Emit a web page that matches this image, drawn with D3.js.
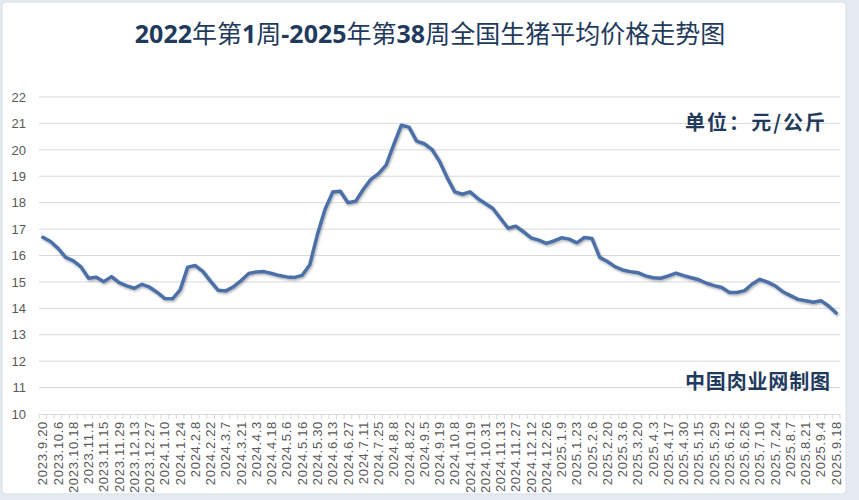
<!DOCTYPE html>
<html>
<head>
<meta charset="utf-8">
<script src="https://cdn.jsdelivr.net/npm/d3@7/dist/d3.min.js"></script>
<style>
  html, body { margin: 0; padding: 0; background: #ffffff; }
  svg { display: block; }
</style>
</head>
<body>
<svg id="chart" width="859" height="500"></svg>
<script>
// ---------- DATA ----------
const titleParts = [
  { t: "2022", b: true }, { t: "年第", b: false }, { t: "1", b: true }, { t: "周", b: false },
  { t: "-2025", b: true }, { t: "年第", b: false }, { t: "38", b: true },
  { t: "周全国生猪平均价格走势图", b: false }
];
const unitLabel = "单位：元/公斤";
const creditLabel = "中国肉业网制图";

// one label every second week
const tickLabels = [
  "2023.9.20","2023.10.6","2023.10.18","2023.11.1","2023.11.15","2023.11.29","2023.12.13","2023.12.27",
  "2024.1.10","2024.1.24","2024.2.8","2024.2.22","2024.3.7","2024.3.21","2024.4.3","2024.4.18",
  "2024.5.6","2024.5.16","2024.5.30","2024.6.13","2024.6.27","2024.7.11","2024.7.25","2024.8.8",
  "2024.8.22","2024.9.5","2024.9.19","2024.10.8","2024.10.19","2024.10.31","2024.11.13","2024.11.27",
  "2024.12.12","2024.12.26","2025.1.9","2025.1.23","2025.2.6","2025.2.20","2025.3.6","2025.3.20",
  "2025.4.3","2025.4.17","2025.4.30","2025.5.15","2025.5.29","2025.6.12","2025.6.26","2025.7.10",
  "2025.7.24","2025.8.7","2025.8.21","2025.9.4","2025.9.18"
];

// weekly national average live hog price (yuan/kg)
const prices = [
  16.69, 16.53, 16.27, 15.93, 15.80, 15.57, 15.14, 15.18, 15.01, 15.20,
  14.97, 14.85, 14.76, 14.91, 14.80, 14.60, 14.37, 14.36, 14.70, 15.56,
  15.62, 15.39, 15.02, 14.68, 14.66, 14.82, 15.05, 15.32, 15.38, 15.39,
  15.32, 15.24, 15.19, 15.17, 15.25, 15.65, 16.80, 17.75, 18.40, 18.43,
  18.00, 18.05, 18.50, 18.88, 19.10, 19.42, 20.20, 20.93, 20.86, 20.33,
  20.23, 20.02, 19.57, 18.95, 18.41, 18.32, 18.41, 18.16, 17.97, 17.78,
  17.40, 17.03, 17.11, 16.90, 16.67, 16.58, 16.46, 16.55, 16.67, 16.62,
  16.48, 16.68, 16.64, 15.93, 15.77, 15.58, 15.45, 15.39, 15.35, 15.23,
  15.16, 15.14, 15.23, 15.33, 15.24, 15.16, 15.08, 14.95, 14.86, 14.79,
  14.60, 14.60, 14.67, 14.92, 15.10, 14.99, 14.85, 14.63, 14.48, 14.34,
  14.29, 14.23, 14.29, 14.09, 13.82
];

const yMin = 10, yMax = 22;
const yTicks = d3.range(yMin, yMax + 1, 1);

// ---------- LAYOUT ----------
const W = 859, H = 500;
const plot = { left: 39, right: 840, top: 97, bottom: 414 };
const textColor = "#1f3a5c";
const lineColor = "#4c70a8";

const svg = d3.select("#chart");

// frame
svg.append("rect").attr("x", 0).attr("y", 0).attr("width", W).attr("height", H).attr("fill", "#e6ebf2");
svg.append("rect").attr("x", 2).attr("y", 2).attr("width", 844).attr("height", 492)
  .attr("rx", 3).attr("fill", "#ffffff").attr("stroke", "#d5dde8").attr("stroke-width", 1);

const defs = svg.append("defs");
const f = defs.append("filter").attr("id", "shadow").attr("x", "-5%").attr("y", "-5%").attr("width", "110%").attr("height", "120%");
f.append("feDropShadow").attr("dx", 1).attr("dy", 1.5).attr("stdDeviation", 1.2)
  .attr("flood-color", "#000").attr("flood-opacity", 0.3);

// scales
const x = d3.scaleBand().domain(d3.range(prices.length)).range([plot.left, plot.right]).paddingInner(0).paddingOuter(0);
const y = d3.scaleLinear().domain([yMin, yMax]).range([plot.bottom, plot.top]);
const cx = i => x(i) + x.bandwidth() / 2;

// gridlines
svg.append("g").selectAll("line").data(yTicks.filter(v => v > yMin)).join("line")
  .attr("x1", plot.left).attr("x2", plot.right)
  .attr("y1", d => y(d)).attr("y2", d => y(d))
  .attr("stroke", "#d9d9d9").attr("stroke-width", 1);

// y axis labels
const yAxis = svg.append("g").attr("transform", `translate(${plot.left},0)`)
  .call(d3.axisLeft(y).tickValues(yTicks).tickSize(0).tickPadding(13).tickFormat(d3.format("d")));
yAxis.select(".domain").remove();
yAxis.selectAll("text").attr("fill", "#595959").attr("font-size", 13)
  .attr("font-family", "'Liberation Sans', Arial, sans-serif");

// x axis baseline + category boundary ticks
svg.append("line").attr("x1", plot.left).attr("x2", plot.right)
  .attr("y1", plot.bottom + 0.5).attr("y2", plot.bottom + 0.5)
  .attr("stroke", "#d9d9d9").attr("stroke-width", 1);
const bounds = d3.range(prices.length).map(i => x(i)).concat([plot.right]);
svg.append("g").selectAll("line").data(bounds).join("line")
  .attr("x1", d => d).attr("x2", d => d)
  .attr("y1", plot.bottom).attr("y2", plot.bottom + 5)
  .attr("stroke", "#d9d9d9").attr("stroke-width", 1);

// x axis labels (every second week)
const labelIdx = d3.range(0, prices.length, 2);
const xAxis = svg.append("g").attr("transform", `translate(0,${plot.bottom})`)
  .call(d3.axisBottom(x).tickValues(labelIdx).tickSize(0).tickFormat(i => tickLabels[i / 2]));
xAxis.select(".domain").remove();
xAxis.selectAll("text")
  .attr("transform", "rotate(-90)")
  .attr("x", -7).attr("y", 0).attr("dy", "0.35em")
  .attr("text-anchor", "end")
  .attr("fill", "#595959").attr("font-size", 13)
  .attr("letter-spacing", 0.7)
  .attr("font-family", "'Liberation Sans', Arial, sans-serif");

// price line
const line = d3.line().x((d, i) => cx(i)).y(d => y(d)).curve(d3.curveLinear);
svg.append("path").datum(prices)
  .attr("d", line)
  .attr("fill", "none")
  .attr("stroke", lineColor)
  .attr("stroke-width", 3.5)
  .attr("stroke-linejoin", "round")
  .attr("stroke-linecap", "round")
  .attr("filter", "url(#shadow)");

// title
const title = svg.append("text").attr("x", 430).attr("y", 43)
  .attr("text-anchor", "middle").attr("fill", textColor).attr("font-size", 25)
  .attr("font-family", "'Noto Sans', 'Noto Sans CJK SC', sans-serif");
title.selectAll("tspan").data(titleParts).join("tspan")
  .attr("font-weight", d => d.b ? 700 : 400)
  .attr("font-family", d => d.b ? "'Noto Sans', sans-serif" : "'Noto Sans CJK SC', sans-serif")
  .text(d => d.t);

// unit & credit
svg.append("text").attr("x", 825).attr("y", 130).attr("text-anchor", "end")
  .attr("fill", textColor).attr("font-size", 20).attr("font-weight", 700)
  .attr("font-family", "'Noto Sans CJK SC', sans-serif")
  .attr("textLength", 140).attr("lengthAdjust", "spacing")
  .text(unitLabel);
svg.append("text").attr("x", 830).attr("y", 389).attr("text-anchor", "end")
  .attr("fill", textColor).attr("font-size", 20).attr("font-weight", 700)
  .attr("font-family", "'Noto Sans CJK SC', sans-serif")
  .attr("textLength", 145).attr("lengthAdjust", "spacing")
  .text(creditLabel);
</script>
</body>
</html>
